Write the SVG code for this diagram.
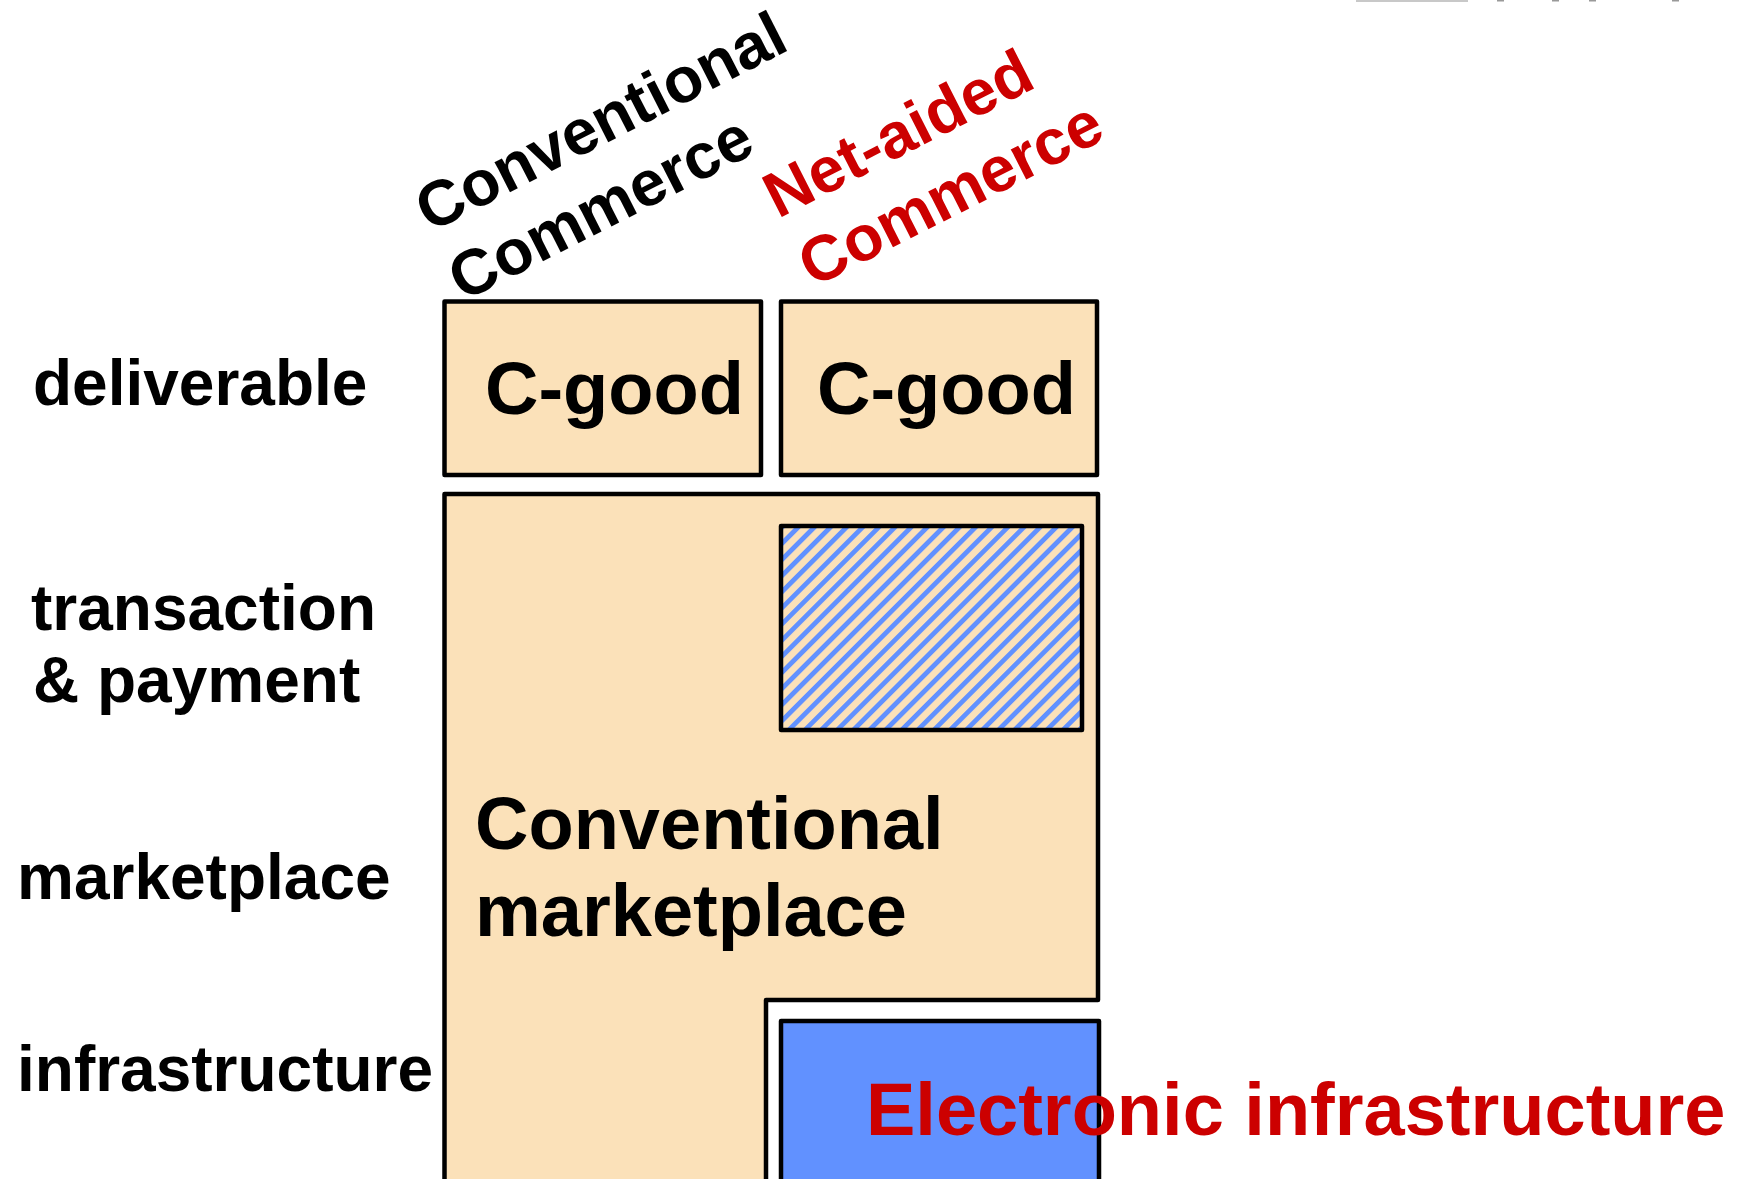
<svg xmlns="http://www.w3.org/2000/svg" width="1741" height="1179" viewBox="0 0 1741 1179">
  <style>
    .lbl { font-family: "Liberation Sans", Arial, sans-serif; font-weight: bold; font-size: 64px; fill: #000; }
    .big { font-family: "Liberation Sans", Arial, sans-serif; font-weight: bold; font-size: 74px; fill: #000; }
    .red { fill: #CC0000; }
    .box { fill: #FBE1B9; stroke: #000; stroke-width: 4.5; stroke-linejoin: round; }
    .ebox { fill: #6191FF; stroke: #000; stroke-width: 4.5; stroke-linejoin: round; }
  </style>
  <defs>
    <pattern id="hatch" patternUnits="userSpaceOnUse" width="11.4" height="11.4" patternTransform="rotate(45)">
      <rect x="0" y="0" width="11.4" height="11.4" fill="#FBE1B9"/>
      <rect x="0" y="0" width="4.8" height="11.4" fill="#6191FF"/>
    </pattern>
  </defs>
  <rect width="1741" height="1179" fill="#fff"/>

  <!-- fragments at the upper right edge -->
  <g id="edge-fragments" fill="#999">
    <rect x="1356" y="0" width="112" height="2" fill="#c8c8c8"/>
    <rect x="1497" y="0" width="7" height="1.5"/>
    <rect x="1552" y="0" width="7" height="1.5"/>
    <rect x="1589" y="0" width="7" height="1.5"/>
    <rect x="1672" y="0" width="7" height="1.5"/>
  </g>

  <!-- column headers -->
  <g id="col-conventional">
    <text class="lbl" transform="translate(430,233) rotate(-27)">Conventional</text>
    <text class="lbl" transform="translate(463,302) rotate(-27)">Commerce</text>
  </g>
  <g id="col-netaided">
    <text class="lbl red" transform="translate(778,219) rotate(-27)">Net-aided</text>
    <text class="lbl red" transform="translate(813,288) rotate(-27)">Commerce</text>
  </g>

  <!-- row labels -->
  <g id="row-labels">
    <text class="lbl" x="33" y="405">deliverable</text>
    <text class="lbl" x="31" y="630">transaction</text>
    <text class="lbl" x="33" y="702">&amp; payment</text>
    <text class="lbl" x="17" y="899">marketplace</text>
    <text class="lbl" x="17" y="1091">infrastructure</text>
  </g>

  <!-- deliverable row -->
  <g id="cgood-conventional">
    <rect class="box" x="444.5" y="301.5" width="316.5" height="173.5"/>
    <text class="big" x="485" y="414">C-good</text>
  </g>
  <g id="cgood-netaided">
    <rect class="box" x="781" y="301.5" width="316" height="173.5"/>
    <text class="big" x="817" y="414">C-good</text>
  </g>

  <!-- conventional marketplace (L-shaped) -->
  <g id="conventional-marketplace">
    <path class="box" d="M444.5 494 H1098 V1000 H766 V1190 H444.5 Z"/>
    <text class="big" x="475" y="849">Conventional</text>
    <text class="big" x="475" y="936">marketplace</text>
  </g>

  <!-- net-aided transaction & payment -->
  <g id="netaided-transaction">
    <rect x="781" y="526" width="301" height="204" fill="url(#hatch)" stroke="#000" stroke-width="4.5" stroke-linejoin="round"/>
  </g>

  <!-- electronic infrastructure -->
  <g id="electronic-infrastructure">
    <rect class="ebox" x="781" y="1021" width="318" height="170"/>
    <text class="big red" x="866" y="1135">Electronic infrastructure</text>
  </g>

  <g id="connectors"/>
</svg>
